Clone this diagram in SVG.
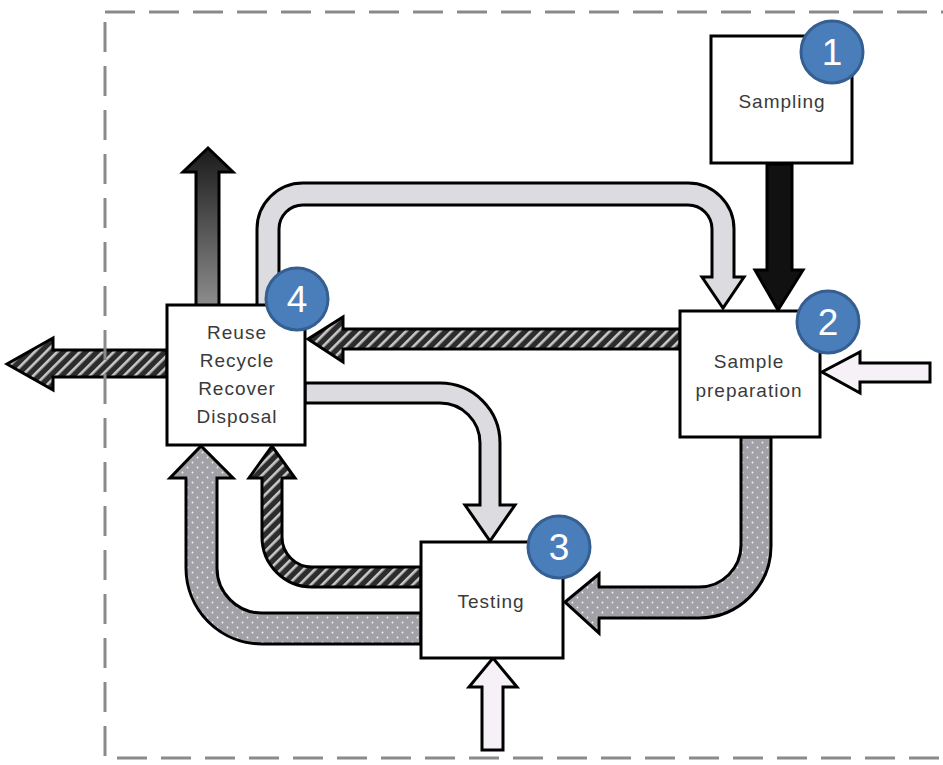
<svg xmlns="http://www.w3.org/2000/svg" width="943" height="765" viewBox="0 0 943 765">
<defs>
<style>
.box{fill:#fff;stroke:#000;stroke-width:3}
.lbl{font-family:"Liberation Sans",Arial,sans-serif;font-size:19px;fill:#3a3a3a;text-anchor:middle;letter-spacing:1px}
.badge{fill:#4a7ebb;stroke:#365f91;stroke-width:3}
.num{font-family:"Liberation Sans",Arial,sans-serif;font-size:37px;fill:#fff;text-anchor:middle}
.arr{stroke:#000;stroke-width:3;stroke-linejoin:miter}
.hatch{fill:url(#hatch)}
.dots{fill:url(#dots)}
.light{fill:#dcdbe0}
.white{fill:#f6f1f6}
</style>
<pattern id="hatch" width="8" height="8" patternUnits="userSpaceOnUse" patternTransform="rotate(45)">
<rect width="8" height="8" fill="#2c2c2c"/>
<rect x="0" y="0" width="2.6" height="8" fill="#c9c9c9"/>
</pattern>
<pattern id="dots" width="10" height="10" patternUnits="userSpaceOnUse">
<rect width="10" height="10" fill="#a2a1a7"/>
<circle cx="2.5" cy="2.5" r="0.9" fill="#f4f4f4"/>
<circle cx="7.5" cy="7.5" r="0.9" fill="#f4f4f4"/>
</pattern>
<linearGradient id="dark" gradientUnits="userSpaceOnUse" x1="0" y1="150" x2="0" y2="305">
<stop offset="0" stop-color="#1c1c1c"/>
<stop offset="1" stop-color="#8c8c8c"/>
</linearGradient>
</defs>
<rect width="943" height="765" fill="#fff"/>
<g id="connectors">
<polygon class="arr" fill="#111" points="767,164 792,164 792,270 803,270 778,310 755,270 767,270"/>
<path class="arr light" d="M257,306 V229 A46,46 0 0 1 303,183 H688 A46,46 0 0 1 734,229 V277 H744 L723,308 L702,277 H712 V229 A24,24 0 0 0 688,205 H303 A24,24 0 0 0 279,229 V306 Z"/>
<polygon class="arr hatch" points="680,329 343,329 343,317 308,339 343,362 343,349 680,349"/>
<polygon class="arr hatch" points="167,350 53,350 53,338 7,364 53,390 53,377 167,377"/>
<polygon class="arr" fill="url(#dark)" points="196,306 196,172 183,172 208,148 233,172 219,172 219,306"/>
<path class="arr light" d="M305,383 H440 A60,60 0 0 1 500,443 V505 H515 L490,541 L465,505 H480 V443 A40,40 0 0 0 440,403 H305 Z"/>
<path class="arr dots" d="M741,437 V545 A42,42 0 0 1 699,587 H599 V574 L565,602 L599,633 V618 H699 A72,72 0 0 0 771,546 V437 Z"/>
<path class="arr dots" d="M421,613 H262 A45,45 0 0 1 217,568 V478 H233 L201,446 L170,478 H186 V568 A76,76 0 0 0 262,644 H421 Z"/>
<path class="arr hatch" d="M421,567 H312 A30,30 0 0 1 282,537 V478 H295 L272,446 L249,478 H262 V537 A50,50 0 0 0 312,587 H421 Z"/>
<polygon class="arr white" points="930,363 860,363 860,352 822,372 860,393 860,382 930,382"/>
<polygon class="arr white" points="482,750 482,687 469,687 493,658 517,687 503,687 503,750"/>
</g>
<g id="node-sampling">
<rect class="box" x="711" y="36" width="141" height="127"/>
<text class="lbl" x="782" y="108">Sampling</text>
<circle class="badge" cx="832" cy="52" r="31"/>
<text class="num" x="832" y="65">1</text>
</g>
<g id="node-prep">
<rect class="box" x="680" y="311" width="140" height="126"/>
<text class="lbl" x="749" y="368">Sample</text>
<text class="lbl" x="749" y="397">preparation</text>
<circle class="badge" cx="828" cy="322" r="31"/>
<text class="num" x="828" y="335">2</text>
</g>
<g id="node-testing">
<rect class="box" x="421" y="542" width="142" height="116"/>
<text class="lbl" x="491" y="608">Testing</text>
<circle class="badge" cx="559" cy="547" r="31"/>
<text class="num" x="559" y="560">3</text>
</g>
<g id="node-reuse">
<rect class="box" x="167" y="305" width="138" height="140"/>
<text class="lbl" x="237" y="339">Reuse</text>
<text class="lbl" x="237" y="367">Recycle</text>
<text class="lbl" x="237" y="395">Recover</text>
<text class="lbl" x="237" y="423">Disposal</text>
<circle class="badge" cx="297" cy="299" r="31"/>
<text class="num" x="297" y="312">4</text>
</g>
<rect id="boundary" x="105" y="12" width="880" height="746" fill="none" stroke="#8a8a8a" stroke-width="3" stroke-dasharray="30 14"/>
</svg>
